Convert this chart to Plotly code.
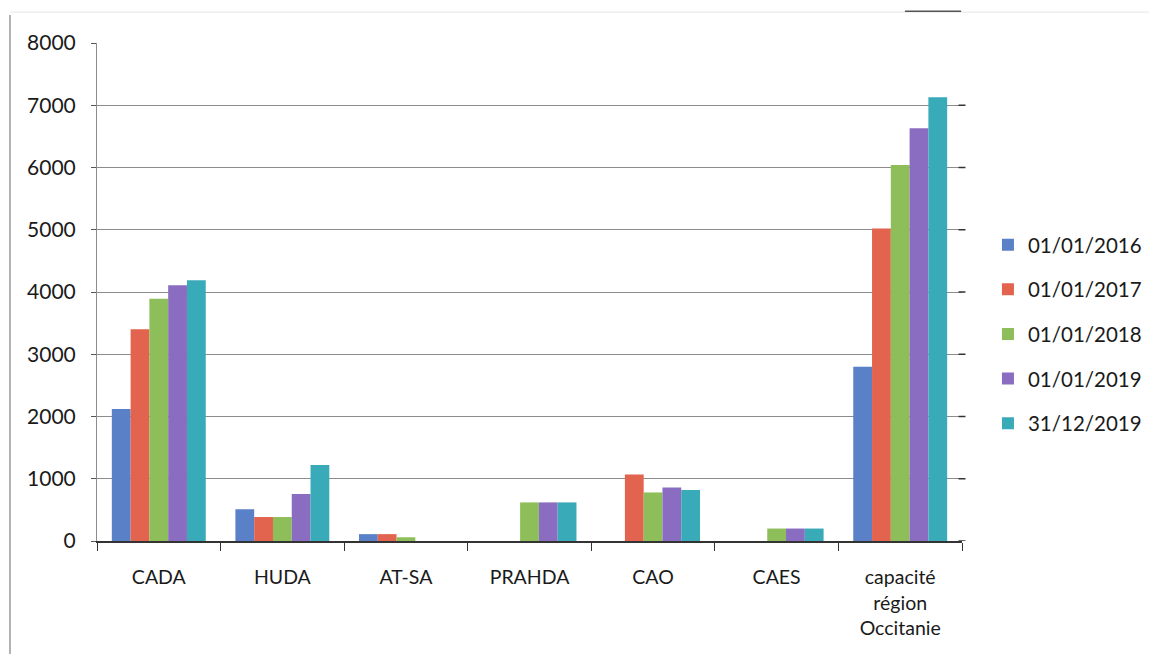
import plotly.graph_objects as go

# Capacités d'hébergement des demandeurs d'asile, par dispositif et par date
categories = ["CADA", "HUDA", "AT-SA", "PRAHDA", "CAO", "CAES",
              "capacité<br>région<br>Occitanie"]

series_names = ["01/01/2016", "01/01/2017", "01/01/2018", "01/01/2019", "31/12/2019"]

v_2016_01 = [2120, 510, 110, None, None, None, 2800]
v_2017_01 = [3400, 385, 110, None, 1070, None, 5020]
v_2018_01 = [3890, 385, 60, 620, 780, 200, 6040]
v_2019_01 = [4110, 755, 0, 620, 860, 200, 6630]
v_2019_12 = [4190, 1220, 0, 620, 820, 200, 7130]

series_values = [v_2016_01, v_2017_01, v_2018_01, v_2019_01, v_2019_12]
colors = ["#5a80c8", "#e2634e", "#8dbe5a", "#8a6cc0", "#38aab8"]

y_ticks = [0, 1000, 2000, 3000, 4000, 5000, 6000, 7000, 8000]

fig = go.Figure()
for name, vals, col in zip(series_names, series_values, colors):
    fig.add_trace(go.Bar(
        x=categories, y=vals, name=name, legendgroup=name,
        marker=dict(color=col, line=dict(width=0)),
    ))

font_family = "Lato, 'Open Sans', sans-serif"

fig.update_layout(
    width=1149, height=654,
    margin=dict(l=97, r=187, t=43, b=113, autoexpand=False),
    paper_bgcolor="white", plot_bgcolor="white",
    barmode="group", bargap=0.24, bargroupgap=0,
    font=dict(family=font_family, size=19, color="#1a1a1a"),
    showlegend=True,
    legend=dict(
        x=1.03, y=0.415, xanchor="left", yanchor="middle",
        font=dict(size=20.5, color="#1a1a1a"),
        traceorder="grouped", tracegroupgap=15,
        itemwidth=30,
    ),
    xaxis=dict(
        showline=True, linecolor="#333", linewidth=1.5,
        ticks="outside", tickson="boundaries", ticklen=8, tickcolor="#333",
        showgrid=False, tickfont=dict(size=19.5), ticklabelstandoff=18,
        automargin=False,
    ),
    yaxis=dict(
        range=[0, 8000], tickvals=y_ticks,
        showgrid=True, gridcolor="#8c8c8c", gridwidth=1,
        showline=True, linecolor="#8c8c8c", linewidth=1,
        ticks="outside", ticklen=5, tickcolor="#555",
        zeroline=False, tickfont=dict(size=21), ticklabelstandoff=11,
        automargin=False,
    ),
    shapes=[
        # scan frame edges
        dict(type="line", xref="paper", yref="paper",
             x0=-0.1006, x1=-0.1006, y0=1.056, y1=-0.23,
             line=dict(color="#9a9a9a", width=1.5)),
        dict(type="line", xref="paper", yref="paper",
             x0=-0.1006, x1=1.22, y0=1.062, y1=1.062,
             line=dict(color="#e6e6e6", width=1)),
        dict(type="line", xref="paper", yref="paper",
             x0=0.934, x1=0.999, y0=1.064, y1=1.064,
             line=dict(color="#555", width=1.5)),
        # right-hand tick marks
        *[dict(type="line", xref="paper", yref="y",
               x0=0.996, x1=1.004, y0=t, y1=t,
               line=dict(color="#333", width=1.5)) for t in y_ticks[:-1]],
    ],
)

fig.write_html("out.html")
